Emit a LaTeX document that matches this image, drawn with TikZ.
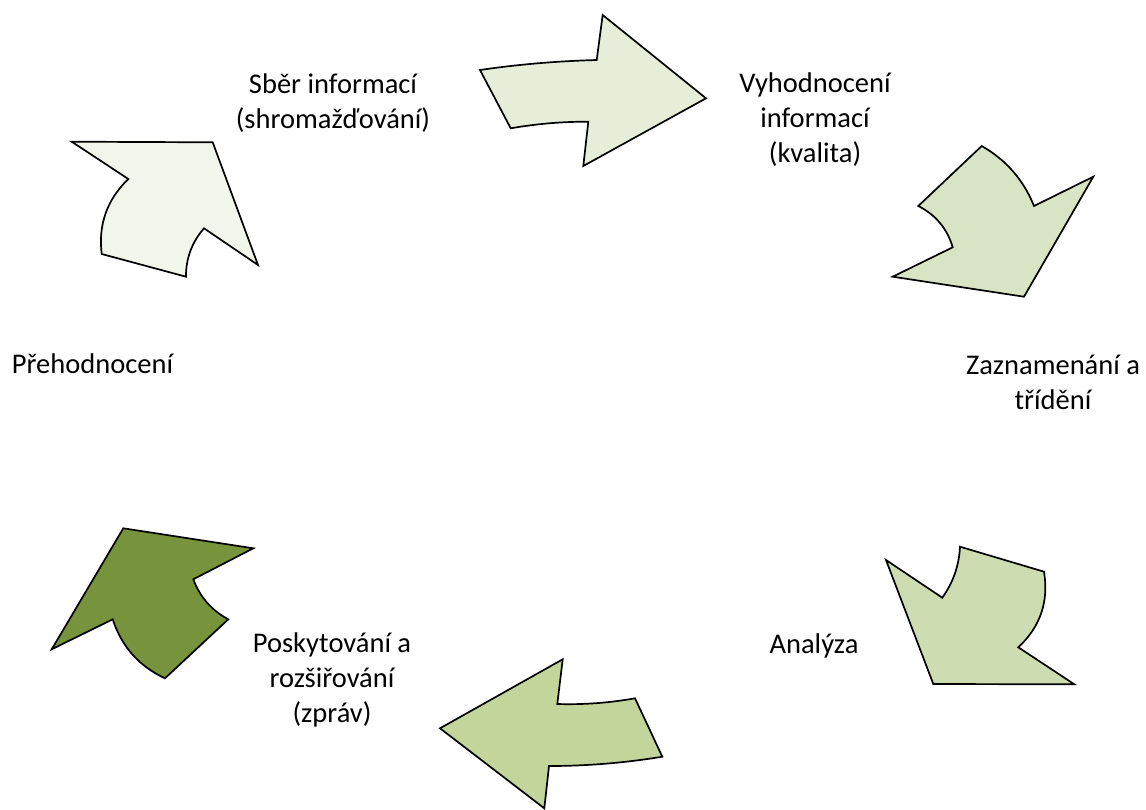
\documentclass[tikz,border=0pt]{standalone}
\usepackage{fontspec}
\setmainfont{Carlito}
\definecolor{cA}{RGB}{230,237,216}
\definecolor{cB}{RGB}{216,228,196}
\definecolor{cC}{RGB}{205,221,177}
\definecolor{cD}{RGB}{194,214,155}
\definecolor{cE}{RGB}{119,147,60}
\definecolor{cF}{RGB}{242,245,234}
\tikzset{
  arrowshape/.style={draw=black, line width=1.7pt, line join=miter},
  lbl/.style={align=center, anchor=base, inner sep=0pt, font=\fontsize{28.5}{35}\selectfont}
}
\begin{document}
\begin{tikzpicture}[x=1pt,y=-1pt]
\useasboundingbox (0,0) rectangle (1146,809);
% arrow 1 (top)
\draw[arrowshape, fill=cA] (480,70) .. controls (518,64.4) and (556.9,61.1) .. (596.7,60) -- (602.7,15) -- (706,98.3) -- (583.3,166) -- (588.3,121.7) .. controls (562.4,121.6) and (536.6,123.8) .. (510.7,128.3) -- cycle;
% arrow 2 (top right)
\draw[arrowshape, fill=cB] (981.7,146) .. controls (1006.1,159.9) and (1023.5,179.9) .. (1034,206) -- (1093.3,176.7) -- (1024,296.7) -- (892.7,276.7) -- (952.7,247.3) .. controls (947.2,228.6) and (935.7,214.9) .. (918.3,206) -- cycle;
% arrow 3 (bottom right)
\draw[arrowshape, fill=cC] (960,546.7) -- (1044,571.7) .. controls (1048.9,601.5) and (1040.4,626.7) .. (1018.3,647.3) -- (1074.3,684.3) -- (933.3,684) -- (886,560) -- (942.3,597.7) .. controls (953.2,582.4) and (959.1,565.4) .. cycle;
% arrow 4 (bottom)
\draw[arrowshape, fill=cD] (635,698.3) -- (662.3,756.7) .. controls (624.6,762.9) and (586.8,766) .. (549,766) -- (544.3,808.3) -- (440,728.3) -- (562.7,659.3) -- (557.3,704) .. controls (583.2,704.8) and (609.1,702.9) .. cycle;
% arrow 5 (bottom left)
\draw[arrowshape, fill=cE] (123.3,528.3) -- (253.3,548.3) -- (193.3,579.3) .. controls (200,597) and (211.6,610.4) .. (228.3,619.3) -- (165,678.3) .. controls (139,666.2) and (121.6,646.6) .. (112.7,619.3) -- (51.7,649.3) -- cycle;
% arrow 6 (top left)
\draw[arrowshape, fill=cF] (71.7,141.7) -- (212.7,142.3) -- (258,265) -- (204,228.3) .. controls (191.9,242.2) and (185.9,258.3) .. (186,276.7) -- (101.7,254) .. controls (98.1,224.6) and (107,199.6) .. (128.3,179) -- cycle;
% labels (anchor base = baseline of the last line)
\node[lbl] (sber) at (333,128) {Sběr informací\\(shromažďování)};
\node[lbl] (vyh) at (815,162) {Vyhodnocení\\informací\\(kvalita)};
\node[lbl] (zazn) at (1053,409) {Zaznamenání a\\třídění};
\node[lbl] (anal) at (814,653) {Analýza};
\node[lbl] (posk) at (332,722) {Poskytování a\\rozšiřování\\(zpráv)};
\node[lbl] (preh) at (92.5,373) {Přehodnocení};
\end{tikzpicture}
\end{document}
